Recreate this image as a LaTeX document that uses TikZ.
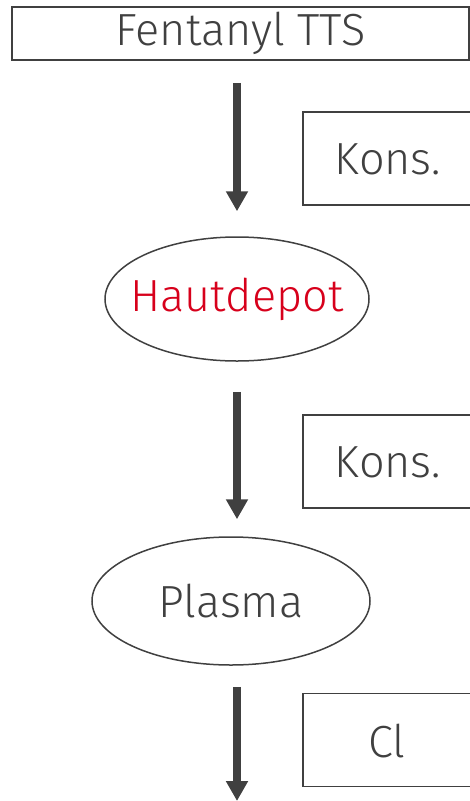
\documentclass[tikz,border=0pt]{standalone}
\usepackage{fontspec}
\setmainfont{Fira Sans Light}
\usetikzlibrary{shapes.geometric,arrows.meta}

\definecolor{ink}{HTML}{404040}
\definecolor{hautred}{HTML}{D7001B}

\tikzset{
  box/.style={draw=ink, line width=1.5pt, text=ink, inner sep=0pt,
    font=\fontsize{45}{54}\selectfont},
  oval/.style={ellipse, draw=ink, line width=1.5pt, text=ink, inner ysep=0pt,
    inner xsep=-25pt, font=\fontsize{45}{54}\selectfont},
  flow/.style={draw=ink, line width=8pt, -{Triangle[width=21pt,length=20pt]}}
}

\begin{document}
\begin{tikzpicture}[x=1pt, y=-1pt]
    \useasboundingbox (0,0) rectangle (470,801);
    \node[box, minimum width=457pt, minimum height=53pt] (tts) at (240.5,33.5) {Fentanyl TTS};
    \node[oval, minimum width=264pt, minimum height=124pt] (haut) at (237,299) {\textcolor{hautred}{Hautdepot}};
    \node[oval, minimum width=278pt, minimum height=128pt] (plasma) at (231,601) {Plasma};
    \node[box, minimum width=172pt, minimum height=93pt] (kons1) at (389,158.5) {};
    \node[box, minimum width=172pt, minimum height=93pt] (kons2) at (389,461.5) {};
    \node[box, minimum width=172pt, minimum height=93pt] (cl) at (389,740) {};
    \node[text=ink, font=\fontsize{45}{54}\selectfont] (kons1t) at (388,159) {Kons.};
    \node[text=ink, font=\fontsize{45}{54}\selectfont] (kons2t) at (388,462) {Kons.};
    \node[text=ink, font=\fontsize{45}{54}\selectfont] (clt) at (387,741) {Cl};
    \coordinate (out) at (237,801);
    \draw[flow, shorten <=22pt, shorten >=25pt] (tts.south -| haut.north) to (haut.north);
    \draw[flow, shorten <=30pt, shorten >=17pt] (haut.south) to (plasma.north -| haut.south);
    \draw[flow, shorten <=21pt] (plasma.south -| haut.south) to (out);
\end{tikzpicture}
\end{document}
